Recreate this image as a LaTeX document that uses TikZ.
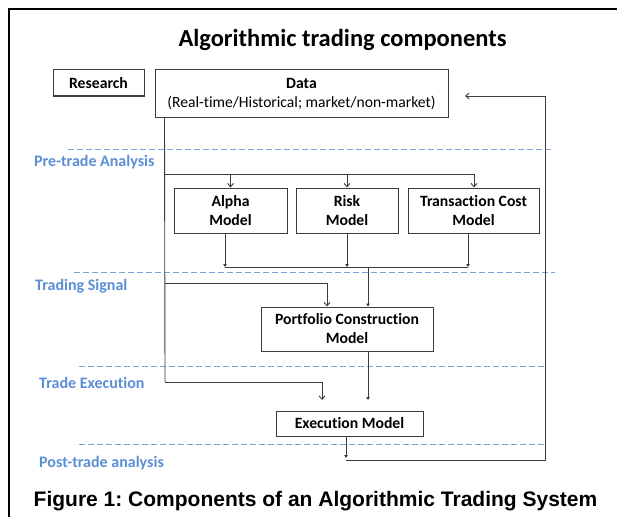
\documentclass[tikz,border=0pt]{standalone}
\usepackage{fontspec}
\setmainfont{Carlito}[Ligatures={NoCommon,NoRare}]
\newfontfamily\capfont{Liberation Sans}
\usetikzlibrary{arrows.meta}
\definecolor{lnc}{RGB}{60,60,60}
\definecolor{phasec}{RGB}{91,143,213}
\definecolor{dashc}{RGB}{120,162,216}
\frenchspacing
\begin{document}
\begin{tikzpicture}[x=1pt,y=-1pt,
  box/.style={draw=lnc, line width=1pt, fill=white, inner sep=0pt, align=center,
    font=\bfseries\fontsize{15.7}{19}\selectfont},
  conn/.style={draw=lnc, line width=0.9pt},
  oarr/.style={conn, -{Straight Barb[length=3.5pt,width=6pt]}},
  farr/.style={conn, -{Triangle[length=3pt,width=3.5pt]}},
  phaseline/.style={draw=dashc, line width=1pt, dash pattern=on 5.5pt off 3.5pt},
  phasetext/.style={text=phasec, anchor=base west, inner sep=0pt,
    font=\bfseries\fontsize{16}{18}\selectfont}]
\useasboundingbox (0,0) rectangle (617,516);
\fill[white] (0,0) rectangle (617,516);
% frame
\draw[line width=2pt] (8.5,520) -- (8.5,9.5) -- (620,9.5);
% title
\node[anchor=base, inner sep=0pt, font=\bfseries\fontsize{24.5}{28}\selectfont] (title) at (342.5,47) {Algorithmic trading components};
% phase lines
\draw[phaseline] (68,149) -- (551,149);
\draw[phaseline] (74,272) -- (555,272);
\draw[phaseline] (79,366) -- (545,366);
\draw[phaseline] (79,444) -- (545,444);
\node[phasetext] (ph1) at (34,166) {Pre-trade Analysis};
\node[phasetext] (ph2) at (35,290) {Trading Signal};
\node[phasetext] (ph3) at (39,388) {Trade Execution};
\node[phasetext] (ph4) at (39,467) {Post-trade analysis};
% boxes
\node[box, minimum width=91pt, minimum height=26pt] (research) at (98.5,83) {Research};
\node[box, minimum width=293pt, minimum height=47pt] (data) at (301.5,93.5) {Data\\{\mdseries\fontsize{15.6}{19}\selectfont (Real-time/Historical; market/non-market)}};
\node[box, minimum width=113pt, minimum height=45pt] (alpha) at (230.5,210.5) {Alpha\\Model};
\node[box, minimum width=102pt, minimum height=45pt] (risk) at (347,210.5) {Risk\\Model};
\node[box, minimum width=131pt, minimum height=45pt] (tc) at (473.5,210.5) {Transaction Cost\\Model};
\node[box, minimum width=172pt, minimum height=44pt] (pcm) at (347,329) {Portfolio Construction\\Model};
\node[box, minimum width=147pt, minimum height=25pt] (exec) at (349.5,423.5) {Execution Model};
% coordinates
\coordinate (dsrc) at ([xshift=10pt]data.south west);
\coordinate (brE) at (474,174);
\coordinate (trunkA) at (165,283);
\coordinate (trunkB) at (165,382);
\coordinate (exL) at (322,400);
\coordinate (exR) at (368,400);
\coordinate (jA) at (225,267);
\coordinate (jT) at (468,267);
\coordinate (pcmTop) at ([xshift=21pt]pcm.north);
\coordinate (pcmBot) at ([xshift=21pt]pcm.south);
\coordinate (pcmLeftIn) at ([xshift=-20pt]pcm.north);
\coordinate (exDown) at (346,458);
\coordinate (fbC) at (545,460);
\coordinate (fbTop) at (545,96);
\coordinate (dataIn) at (465,96);
% data distribution
\draw[oarr] (dsrc) |- (brE) -- (brE |- tc.north);
\draw[oarr] (alpha.north |- brE) -- (alpha.north);
\draw[oarr] (risk.north |- brE) -- (risk.north);
\draw[conn] (dsrc) -- (trunkB);
\draw[oarr] (trunkA) -| (pcmLeftIn);
\draw[oarr] (trunkB) -| (exL);
% model outputs
\draw[farr] ([xshift=-5.5pt]alpha.south) -- (jA);
\draw[farr] (risk.south) -- (risk.south |- jA);
\draw[farr] ([xshift=-5.5pt]tc.south) -- (jT);
\draw[conn] (jA) -- (jT);
\draw[farr] (pcmTop |- jA) -- (pcmTop);
\draw[farr] (pcmBot) -- (exR);
% feedback
\draw[farr] ([xshift=-3.5pt]exec.south) -- (exDown);
\draw[oarr] (exDown |- fbC) -- (fbC) -- (fbTop) -- (dataIn);
% caption
\node[anchor=base, inner sep=0pt, font=\capfont\bfseries\fontsize{21}{24}\selectfont] (cap) at (315.5,506) {Figure 1: Components of an Algorithmic Trading System};
\end{tikzpicture}
\end{document}
